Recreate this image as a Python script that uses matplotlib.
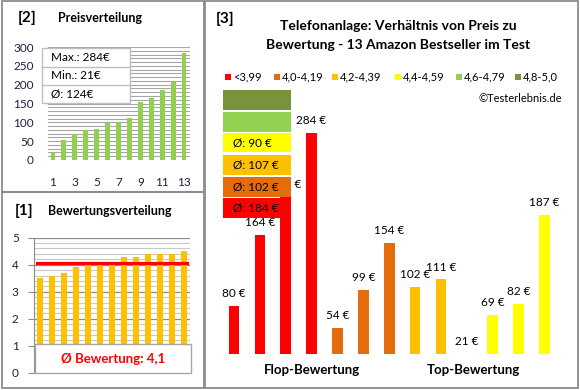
import matplotlib
matplotlib.use("Agg")
import matplotlib.pyplot as plt
from matplotlib.patches import Rectangle

plt.rcParams['font.family'] = ['Lato', 'DejaVu Sans']

# daten
preise_sortiert = [21, 54, 69, 80, 82, 99, 102, 111, 154, 164, 187, 208, 284]
bewertungen_sortiert = [3.5, 3.6, 3.7, 3.9, 4.0, 4.0, 4.0, 4.3, 4.3, 4.4, 4.4, 4.4, 4.5]
preise_gruppen = [80, 164, 208, 284, 54, 99, 154, 102, 111, 21, 69, 82, 187]
kategorie_gruppen = [0, 0, 0, 0, 1, 1, 1, 2, 2, 3, 3, 3, 3]
kategorien = ["<3,99", "4,0-4,19", "4,2-4,39", "4,4-4,59", "4,6-4,79", "4,8-5,0"]
farben = ["#FF0000", "#E46C0A", "#FFC000", "#FFFF00", "#92D050", "#77933C"]

W, H = 580, 390
fig = plt.figure(figsize=(W / 100, H / 100), dpi=100)


def rect(x0, y0, x1, y1):
    return [x0 / W, 1 - y1 / H, (x1 - x0) / W, (y1 - y0) / H]


def ftext(x, y, s, **kw):
    return fig.text(x / W, 1 - y / H, s, **kw)


def fbox(x0, y0, x1, y1, **kw):
    r = Rectangle((x0 / W, 1 - y1 / H), (x1 - x0) / W, (y1 - y0) / H,
                  transform=fig.transFigure, **kw)
    fig.add_artist(r)
    return r


# rahmen
fbox(2, 1, 204, 192, fill=False, edgecolor="#8C8C8C", lw=1.3)
fbox(2, 192, 204, 388, fill=False, edgecolor="#8C8C8C", lw=1.3)
fbox(205, 1, 578, 388, fill=False, edgecolor="#8C8C8C", lw=1.3)

# [2] Preisverteilung
ax2 = fig.add_axes(rect(47.5, 47, 189.5, 160))
x = list(range(len(preise_sortiert)))
for v in range(0, 301, 10):
    ax2.axhline(v, color="#A6A6A6", lw=0.8, zorder=0)
ax2.bar(x, preise_sortiert, width=0.45, color="#92D050", zorder=2)
ax2.set_xlim(-0.5, 12.5)
ax2.set_ylim(0, 300)
ax2.set_yticks(range(0, 301, 50))
ax2.set_xticks(x[::2])
ax2.set_xticklabels([str(i + 1) for i in x[::2]])
ax2.tick_params(length=0, labelsize=8.5, colors="#1F1F3F")
ax2.tick_params(axis="y", pad=10)
ax2.tick_params(axis="x", pad=12)
for s in ax2.spines.values():
    s.set_visible(False)
ftext(27, 18, "[2]", fontsize=11, fontweight="bold", ha="center", va="center")
ftext(58, 18, "Preisverteilung", fontsize=9, fontweight="bold", va="center")

mittel_preis = sum(preise_sortiert) / len(preise_sortiert)
fbox(42, 48, 130, 103, facecolor="white", edgecolor="#BFBFBF", lw=1, zorder=5)
fig.add_artist(plt.Line2D([42 / W, 130 / W], [1 - 66.5 / H, 1 - 66.5 / H],
                          transform=fig.transFigure, color="#BFBFBF", lw=1, zorder=6))
fig.add_artist(plt.Line2D([42 / W, 130 / W], [1 - 84.5 / H, 1 - 84.5 / H],
                          transform=fig.transFigure, color="#BFBFBF", lw=1, zorder=6))
ftext(51, 57.5, f"Max.: {max(preise_sortiert)}€", fontsize=8.5, va="center", zorder=7)
ftext(51, 75.5, f"Min.: {min(preise_sortiert)}€", fontsize=8.5, va="center", zorder=7)
ftext(51, 94, f"Ø: {round(mittel_preis)}€", fontsize=8.5, va="center", zorder=7)

# [1] Bewertungsverteilung
ax1 = fig.add_axes(rect(34, 237.7, 190, 372.7))
for i in range(0, 26):
    v = i * 0.2
    if i % 5 == 0:
        ax1.axhline(v, color="#8C8C8C", lw=0.9, zorder=0)
    else:
        ax1.axhline(v, color="#C8C8C8", lw=0.8, zorder=0)
ax1.bar(x, bewertungen_sortiert, width=0.42, color="#FFC000", zorder=2)
mittel_bew = sum(bewertungen_sortiert) / len(bewertungen_sortiert)
ax1.plot([-0.25, 12.25], [mittel_bew, mittel_bew], color="#FF0000", lw=2.3, zorder=3)
ax1.set_xlim(-0.5, 12.5)
ax1.set_ylim(0, 5)
ax1.set_yticks(range(0, 6))
ax1.set_xticks([])
ax1.tick_params(axis="y", length=4, color="#8C8C8C", labelsize=8.5, pad=7, labelcolor="#1F1F3F")
for k in ["top", "right", "bottom"]:
    ax1.spines[k].set_visible(False)
ax1.spines["left"].set_color("#8C8C8C")
ftext(24, 211, "[1]", fontsize=11, fontweight="bold", ha="center", va="center")
ftext(48, 211, "Bewertungsverteilung", fontsize=9, fontweight="bold", va="center")
fbox(35, 344, 191, 373, facecolor="white", edgecolor="#A6A6A6", lw=1, zorder=5)
ftext(113, 359, f"Ø Bewertung: {mittel_bew:.1f}".replace(".", ","), fontsize=9.5,
      fontweight="bold", color="#FF0000", ha="center", va="center", zorder=6)

# [3] Preis zu Bewertung
ax3 = fig.add_axes(rect(221, 100, 557.5, 354))
x3 = list(range(len(preise_gruppen)))
ax3.bar(x3, preise_gruppen, width=0.41, color=[farben[k] for k in kategorie_gruppen])
y_min = 23
ax3.set_ylim(y_min, 323)
ax3.set_xlim(-0.5, 12.5)
for i, v in enumerate(preise_gruppen):
    ax3.annotate(f"{v} €", (i, max(v, y_min)), xytext=(0, 5), textcoords="offset points",
                 ha="center", va="bottom", fontsize=8.5, annotation_clip=False)
ax3.axis("off")

ftext(225, 19, "[3]", fontsize=11, fontweight="bold", ha="center", va="center")
ftext(398, 26, "Telefonanlage: Verhältnis von Preis zu", fontsize=10, fontweight="bold",
      ha="center", va="center")
ftext(398, 45, "Bewertung - 13 Amazon Bestseller im Test", fontsize=10, fontweight="bold",
      ha="center", va="center")

leg_x = [228, 277, 335, 398, 459, 518]
for lx, lab, col in zip(leg_x, kategorien, farben):
    fbox(lx - 3, 74, lx + 3, 80, facecolor=col, edgecolor="none")
    ftext(lx + 5, 77, lab, fontsize=8, va="center")
ftext(562, 98, "©Testerlebnis.de", fontsize=8, ha="right", va="center")

# mittelwert-kaesten
box_top = [90, 112, 133, 155, 177, 198]
for k in range(len(kategorien)):
    kat = len(kategorien) - 1 - k
    y0 = box_top[k]
    fbox(223, y0, 291, y0 + 19.5, facecolor=farben[kat], edgecolor="none", zorder=10)
    werte = [p for p, c in zip(preise_gruppen, kategorie_gruppen) if c == kat]
    if werte:
        m = int(sum(werte) / len(werte) + 0.5)
        ftext(233, y0 + 10, f"Ø: {m} €", fontsize=8.5, va="center", zorder=11)

ftext(312, 370, "Flop-Bewertung", fontsize=9.5, fontweight="bold", ha="center", va="center")
ftext(473, 370, "Top-Bewertung", fontsize=9.5, fontweight="bold", ha="center", va="center")

fig.savefig("out.png", dpi=100)
